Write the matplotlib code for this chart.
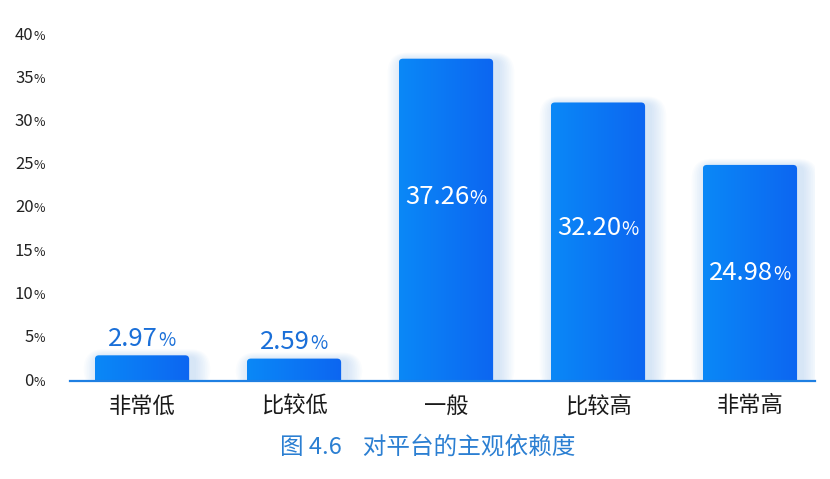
import numpy as np
import matplotlib
matplotlib.use("Agg")
import matplotlib.pyplot as plt
from matplotlib.patches import FancyBboxPatch
from matplotlib.offsetbox import TextArea, HPacker, AnnotationBbox
from matplotlib.colors import LinearSegmentedColormap

plt.rcParams['font.family'] = ['Noto Sans CJK SC', 'DejaVu Sans']

categories = ['非常低', '比较低', '一般', '比较高', '非常高']
values = [2.97, 2.59, 37.26, 32.20, 24.98]
value_labels = ['2.97', '2.59', '37.26', '32.20', '24.98']
yticks = [0, 5, 10, 15, 20, 25, 30, 35, 40]
ytick_labels = ['0', '5', '10', '15', '20', '25', '30', '35', '40']
title = '图 4.6    对平台的主观依赖度'

# label placement (fraction of bar height for inside labels; None = above bar)
inside_frac = [None, None, 0.57, 0.55, 0.50]

W, H = 830, 479
fig = plt.figure(figsize=(W / 100, H / 100), dpi=100)
ax = fig.add_axes([70 / W, (H - 381) / H, 745 / W, 346 / H])
ax.set_xlim(-0.474, 4.428)
ax.set_ylim(0, 40)
ax.axis('off')

bar_w = 0.62
px_x = 745 / (4.428 + 0.474)
px_y = 346 / 40.0
aspect = px_x / px_y
cmap = LinearSegmentedColormap.from_list('bar', ['#0a88f7', '#0d66f1'])
grad = np.linspace(0, 1, 64).reshape(1, -1)

for i, v in enumerate(values):
    x0 = i - bar_w / 2
    # soft glow, shifted to the right
    for k in range(9):
        pad = (k + 1) * 1.8 / px_x
        top_pad = (k + 1) * 0.9 / px_y
        sh = FancyBboxPatch((x0 + 5 / px_x - pad, -1), bar_w + 2 * pad, v + 1 + top_pad - 2 / px_y,
                            boxstyle='round,pad=0,rounding_size=%f' % (pad + 4 / px_x),
                            mutation_aspect=aspect, facecolor='#5aa4f2',
                            edgecolor='none', alpha=0.028, zorder=1)
        ax.add_patch(sh)
    patch = FancyBboxPatch((x0, -1), bar_w, v + 1,
                           boxstyle='round,pad=0,rounding_size=%f' % (4 / px_x),
                           mutation_aspect=aspect, facecolor='none',
                           edgecolor='none', zorder=2)
    ax.add_patch(patch)
    im = ax.imshow(grad, cmap=cmap, aspect='auto', extent=(x0, x0 + bar_w, -1, v),
                   zorder=2, interpolation='bicubic')
    im.set_clip_path(patch)

ax.set_xlim(-0.474, 4.428)
ax.set_ylim(0, 40)

# baseline
ax.plot([-0.474, 4.428], [0, 0], color='#1e7fe2', lw=1.6, zorder=3, clip_on=False)


def num_pct(num, big, small, color, weight='normal', sep=0):
    a = TextArea(num, textprops=dict(fontsize=big, color=color, fontweight=weight))
    b = TextArea('%', textprops=dict(fontsize=small, color=color, fontweight=weight))
    return HPacker(children=[a, b], align='baseline', pad=0, sep=sep)


for i, v in enumerate(values):
    if inside_frac[i] is None:
        box = num_pct(value_labels[i], 18.5, 13.5, '#1a6fd8', 'medium')
        ab = AnnotationBbox(box, (i, v), xybox=(0, 12), boxcoords='offset points',
                            frameon=False, box_alignment=(0.5, 0.5), zorder=5)
    else:
        box = num_pct(value_labels[i], 18.5, 13.5, 'white', 'medium')
        ab = AnnotationBbox(box, (i, v * inside_frac[i]), frameon=False,
                            box_alignment=(0.5, 0.5), zorder=5)
    ax.add_artist(ab)

# y tick labels
for t, lab in zip(yticks, ytick_labels):
    box = num_pct(lab, 12, 9, '#222222')
    ab = AnnotationBbox(box, (-25 / 745, t), xycoords=ax.get_yaxis_transform(),
                        frameon=False, box_alignment=(1, 0.5), annotation_clip=False)
    ax.add_artist(ab)

# category labels
for i, c in enumerate(categories):
    ax.annotate(c, (i, 0), xytext=(0, -18), textcoords='offset points',
                ha='center', va='center', fontsize=16, color='#1a1a1a',
                annotation_clip=False)

fig.text(428 / W, 1 - 447 / H, title, ha='center', va='center', fontsize=17,
         color='#2b7fd2')

fig.savefig('out.png', dpi=100)
